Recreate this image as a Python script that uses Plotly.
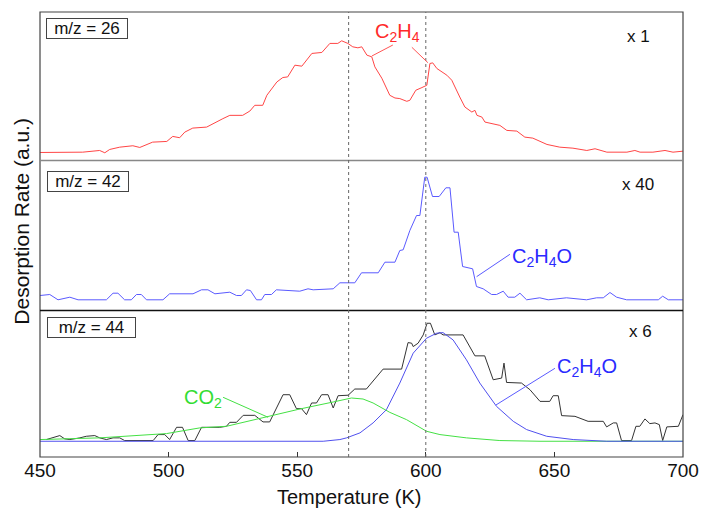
import plotly.graph_objects as go

# ---------------- data ----------------
# m/z = 26 (x 1)
t26 = [450, 466.6, 473.2, 475.2, 477.1, 481.0, 486.1, 488.8, 493.8, 499.3, 501.6, 504.3, 506.3,
       509.4, 514.8, 517.2, 521.1, 523.8, 528.8, 531.6, 533.5, 536.6, 538.2, 542.1, 544.4, 546.3,
       549.1, 551.8, 555.7, 559.6, 562.7, 565.8, 567.3, 569.7, 571.6, 573.6, 575.1, 577.1, 579.0,
       580.2, 582.9, 586.0, 588.0, 589.9, 592.6, 593.8, 596.1, 598.5, 600.4, 601.6, 602.7, 604.3,
       606.2, 608.2, 610.1, 611.3, 613.2, 615.2, 617.9, 619.1, 619.9, 621.8, 623.0, 628.8, 631.5,
       635.4, 638.5, 641.6, 647.1, 652.1, 657.2, 662.6, 665.8, 670.4, 678.2, 681.3, 683.3, 688.3,
       693.0, 696.1, 700]
i26 = [8, 8.3, 10, 7.7, 11, 13.3, 14.7, 13, 18.3, 19, 24, 22.7, 28.3,
       32.3, 33.3, 36.7, 41.7, 45, 45, 49.3, 55, 55, 65, 78.3, 82.7, 83.3,
       95, 94, 106.7, 107.7, 116.7, 116.7, 119.3, 116.7, 113.3, 112.3, 113.3, 105, 103.3,
       93.3, 82, 65, 62.3, 61.7, 59, 60, 70, 72.7, 75, 96.7, 97.3, 91.7,
       88.3, 85, 80, 73.3, 63.3, 53.3, 48.3, 50, 45, 43.3, 38.3, 35, 30,
       29.3, 23.3, 22.3, 16, 13.3, 12.3, 10, 11.7, 8.3, 8.3, 10, 8.3, 8.3,
       10, 8.3, 9.3]

# m/z = 42 (x 40)
t42 = [450, 453.8, 457.0, 461.6, 464.8, 475.8, 478.4, 480.3, 482.9, 485.5, 487.5, 489.4, 491.4,
       497.8, 500.4, 509.5, 512.8, 515.3, 518.0, 523.8, 526.4, 528.3, 530.3, 531.8, 534.2, 536.1,
       537.4, 540.0, 541.9, 551.0, 554.2, 556.2, 564.0, 566.6, 572.4, 575.0, 581.5, 584.1, 588.0,
       589.9, 591.2, 593.8, 596.4, 597.7, 599.6, 600.5, 602.6, 605.2, 607.8, 609.4, 611.0, 612.6,
       614.3, 618.2, 619.7, 622.3, 625.6, 627.5, 630.1, 632.0, 634.6, 636.6, 639.2, 644.3, 647.6,
       654.7, 662.5, 666.4, 669.0, 671.6, 674.2, 678.1, 690.4, 692.1, 694.3, 700]
i42 = [15, 16, 10.7, 13.3, 10.7, 10.7, 17.3, 17.3, 10.7, 10.7, 16, 16, 10.7,
       10.7, 16.7, 16.7, 20.7, 20.7, 16.7, 18.3, 15, 15, 20.7, 20, 10.7, 10.7,
       16, 16, 20.7, 19.3, 21.7, 20.7, 21.7, 27.7, 27.7, 37.7, 37.7, 48.3, 48.3,
       60, 60.7, 80, 95, 95, 133.3, 133.3, 114, 114, 122.7, 122.7, 78.3, 78.3,
       44, 41.7, 24, 21.7, 16, 16, 19.3, 13.3, 13.3, 17.3, 10.7, 12.7, 10.7,
       12.7, 10.7, 12.7, 12.7, 18, 13.3, 10.7, 10.7, 14.3, 10.7, 10.7]

# m/z = 44 (x 6) measured signal
t44 = [452.5, 455.1, 457.7, 459.6, 461.6, 465.5, 468.0, 471.3, 473.2, 475.8, 478.4, 481.0, 482.9,
       494.0, 495.9, 498.5, 500.4, 503.1, 505.4, 507.6, 510.2, 512.8, 519.9, 522.5, 523.8, 526.4,
       529.0, 533.5, 536.7, 539.3, 544.5, 547.1, 549.7, 551.7, 553.6, 555.6, 557.5, 559.5, 562.0,
       564.0, 565.9, 569.8, 572.4, 576.9, 583.4, 590.6, 593.1, 594.5, 595.1, 597.0, 599.0, 600.5,
       601.8, 603.5, 605.5, 606.7, 614.5, 619.1, 622.9, 626.2, 629.5, 630.4, 631.4, 637.2, 640.5,
       644.4, 648.2, 649.5, 651.5, 652.8, 658.0, 663.1, 669.0, 670.3, 672.9, 674.2, 676.1, 680.0,
       681.7, 683.2, 685.2, 687.1, 689.1, 690.8, 692.1, 693.7, 698.2, 700]
i44 = [17.5, 19.8, 21.5, 18.2, 17.5, 19.2, 20.8, 21.5, 19.2, 17.5, 19.2, 19.2, 16.5,
       16.5, 22.5, 22.5, 17.5, 29.8, 29.8, 16.5, 16.5, 29.8, 29.8, 30.8, 34.8, 34.8,
       41.8, 41.8, 35.2, 35.2, 62.5, 62.5, 48.5, 48.5, 42.5, 54.2, 54.2, 62.5, 62.5,
       49.2, 61.5, 62.0, 68.2, 68.2, 88.2, 88.2, 114.8, 114.2, 110.8, 114.2, 122.5, 134.2,
       134.2, 122.5, 124.8, 122.5, 122.5, 101.5, 101.5, 77.5, 79.2, 94.2, 74.8, 74.2, 67.5,
       55.8, 55.8, 61.5, 61.5, 41.5, 40.8, 35.8, 35.8, 30.2, 34.2, 34.2, 16.5, 16.5,
       30.8, 30.8, 38.2, 33.5, 34.2, 32.5, 16.5, 30.2, 30.8, 42.5]

# CO2 component (green)
t_co2 = [450, 473.2, 499.2, 512.1, 522.5, 538.1, 551.1, 564.0, 571.1, 575.6, 579.5, 586.0,
         592.5, 600.3, 605.5, 615.8, 628.8, 644.4, 670.3, 700]
i_co2 = [17.5, 19.2, 23.5, 29.2, 30.8, 40.2, 48.2, 55.2, 59.2, 58.2, 54.2, 44.8,
         37.5, 25.8, 22.5, 19.2, 16.5, 15.8, 15.8, 15.8]

# C2H4O component (blue)
t_c2h4o = [450, 560.1, 566.6, 569.2, 574.4, 579.5, 584.7, 589.9, 595.1, 600.3, 604.2, 606.7,
           610.6, 615.8, 621.0, 627.5, 634.0, 639.2, 647.0, 657.3, 670.3, 700]
i_c2h4o = [15.8, 15.8, 17.5, 19.2, 24.2, 34.2, 47.5, 74.2, 104.2, 119.2, 124.2, 124.8,
           117.5, 97.5, 74.2, 50.8, 35.8, 27.5, 20.8, 17.5, 15.8, 15.8]

x_ticks = [450, 500, 550, 600, 650, 700]
marker_T = [570, 600]

FONT = "Arial, Liberation Sans, sans-serif"

# ---------------- figure ----------------
fig = go.Figure()
fig.add_trace(go.Scatter(x=t26, y=i26, mode="lines", line=dict(color="#ff4545", width=1),
                         xaxis="x", yaxis="y", showlegend=False, hoverinfo="skip"))
fig.add_trace(go.Scatter(x=t42, y=i42, mode="lines", line=dict(color="#5a5aff", width=1),
                         xaxis="x", yaxis="y2", showlegend=False, hoverinfo="skip"))
fig.add_trace(go.Scatter(x=t44, y=i44, mode="lines", line=dict(color="#333333", width=1),
                         xaxis="x", yaxis="y3", showlegend=False, hoverinfo="skip"))
fig.add_trace(go.Scatter(x=t_co2, y=i_co2, mode="lines", line=dict(color="#44e044", width=1),
                         xaxis="x", yaxis="y3", showlegend=False, hoverinfo="skip"))
fig.add_trace(go.Scatter(x=t_c2h4o, y=i_c2h4o, mode="lines", line=dict(color="#5050ee", width=1),
                         xaxis="x", yaxis="y3", showlegend=False, hoverinfo="skip"))

d3 = 146.5 / 445
d2 = 296.5 / 445

fig.update_layout(
    width=701, height=509,
    margin=dict(l=40, r=18, t=12, b=52, autoexpand=False),
    paper_bgcolor="white", plot_bgcolor="white",
    font=dict(family=FONT, color="#111111"),
    xaxis=dict(range=[450, 700], tickvals=x_ticks, ticks="inside", ticklen=5, tickcolor="#333",
               showgrid=False, zeroline=False, anchor="y3", showline=False, automargin=False,
               tickfont=dict(size=19, family=FONT, color="#111")),
    yaxis=dict(domain=[d2, 1], range=[0, 148], visible=False, anchor="x", automargin=False),
    yaxis2=dict(domain=[d3, d2], range=[0, 150], visible=False, anchor="x", automargin=False),
    yaxis3=dict(domain=[0, d3], range=[0, 147], visible=False, anchor="x", automargin=False),
)

shapes = []
# frame
shapes.append(dict(type="rect", xref="paper", yref="paper", x0=0, x1=1, y0=0, y1=1,
                   line=dict(color="#444444", width=1.2)))
shapes.append(dict(type="line", xref="paper", yref="paper", x0=0, x1=1, y0=d2, y1=d2,
                   line=dict(color="#888888", width=1.5)))
shapes.append(dict(type="line", xref="paper", yref="paper", x0=0, x1=1, y0=d3, y1=d3,
                   line=dict(color="#111111", width=1.5)))
for t in marker_T:
    shapes.append(dict(type="line", xref="x", yref="paper", x0=t, x1=t, y0=0, y1=1,
                       line=dict(color="#666666", width=1, dash="dot")))

def px2paper(px, py):
    return (px - 40.3) / 642.7, (457 - py) / 445

def leader(p0, p1, color):
    x0, y0 = px2paper(*p0)
    x1, y1 = px2paper(*p1)
    return dict(type="line", xref="paper", yref="paper", x0=x0, y0=y0, x1=x1, y1=y1,
                line=dict(color=color, width=1))

shapes.append(leader((393, 45), (372, 56), "#ff5555"))
shapes.append(leader((412, 47.3), (428, 62.7), "#ff5555"))
shapes.append(leader((510, 254.3), (476.7, 276.7), "#5a5aff"))
shapes.append(leader((223.3, 397.3), (268.3, 417.3), "#44e044"))
shapes.append(leader((555, 368.3), (496, 405), "#5a5aff"))
fig.update_layout(shapes=shapes)

ann = []
def label(text, px, py, size, color, **kw):
    x, y = px2paper(px, py)
    d = dict(text=text, xref="paper", yref="paper", x=x, y=y, xanchor="center", yanchor="middle",
             showarrow=False, font=dict(size=size, color=color, family=FONT))
    d.update(kw)
    return d

for txt, cx, cy, w in [("m/z = 26", 87.5, 28.7, 78), ("m/z = 42", 87.8, 181.3, 78),
                       ("m/z = 44", 91.7, 327.8, 85)]:
    ann.append(label(txt, cx, cy, 17, "#111111", bordercolor="#444444", borderwidth=1,
                     borderpad=1, bgcolor="white", width=w, height=17))
for txt, cx, cy in [("x 1", 639, 36), ("x 40", 638, 184), ("x 6", 641, 331)]:
    ann.append(label(txt, cx, cy, 17, "#111111"))

ann.append(label("C<sub>2</sub>H<sub>4</sub>", 397.5, 33, 20, "#ff2a2a"))
ann.append(label("C<sub>2</sub>H<sub>4</sub>O", 542.5, 257, 20, "#2a2aff"))
ann.append(label("CO<sub>2</sub>", 203, 398, 20, "#33dd33"))
ann.append(label("C<sub>2</sub>H<sub>4</sub>O", 587.5, 367, 20, "#2a2aff"))

ann.append(label("Temperature (K)", 350, 497, 20, "#111111"))
ann.append(label("Desorption Rate (a.u.)", 22, 221, 21, "#111111", textangle=-90))
fig.update_layout(annotations=ann)

fig.write_html("out.html", config={"displayModeBar": False},
               post_script="document.body.style.margin='0px';")
